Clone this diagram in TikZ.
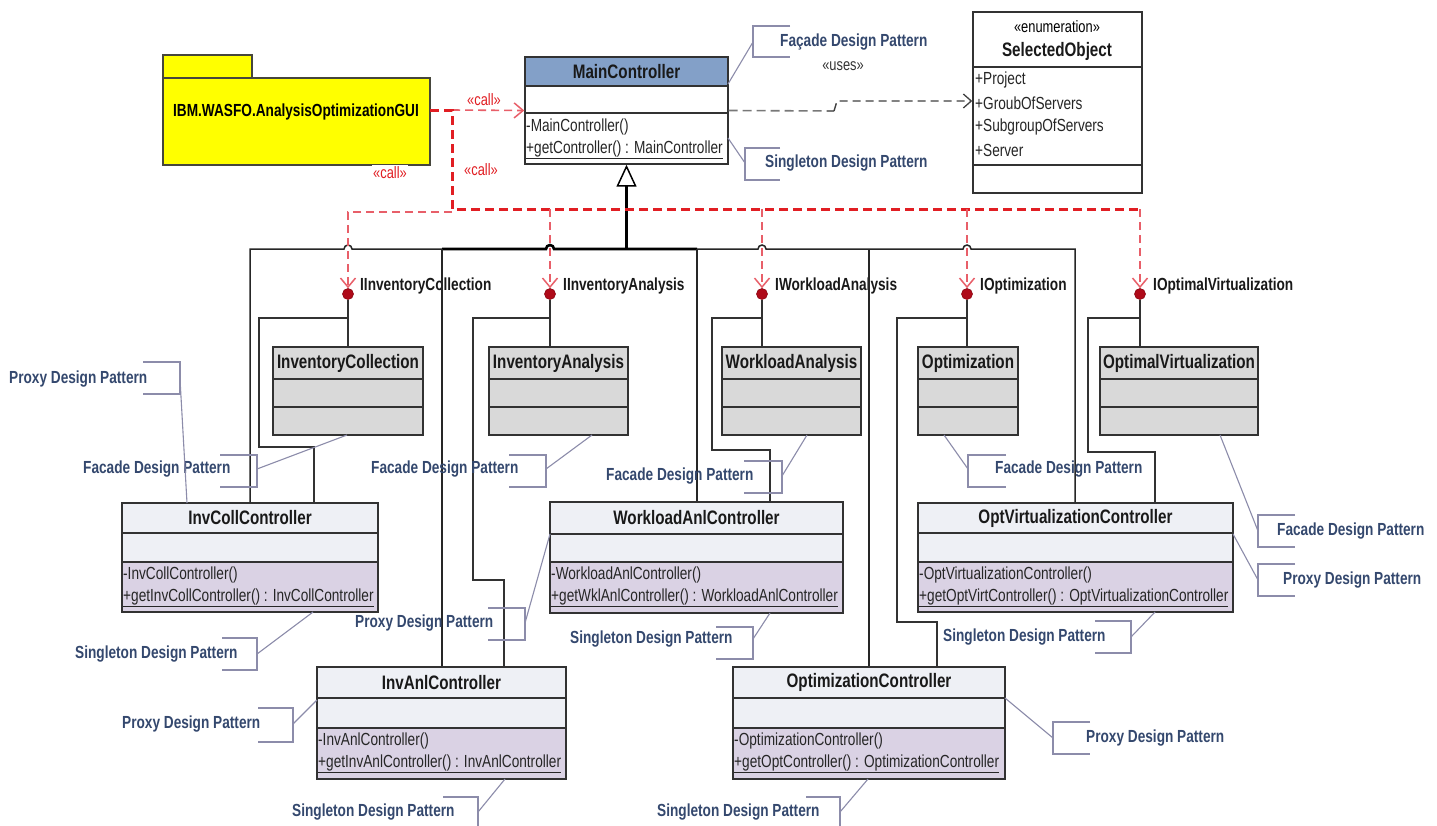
\documentclass[tikz,border=0pt]{standalone}
\usepackage{fontspec}
\setmainfont{Liberation Sans}[FakeStretch=0.78]
\usetikzlibrary{arrows.meta,fit}
\definecolor{pkgyellow}{RGB}{255,255,0}
\definecolor{pkgline}{RGB}{70,70,60}
\definecolor{mchead}{RGB}{131,160,200}
\definecolor{ctrllight}{RGB}{238,240,245}
\definecolor{ctrlmeth}{RGB}{218,210,228}
\definecolor{ifacegray}{RGB}{217,217,217}
\definecolor{notetext}{RGB}{52,72,110}
\definecolor{notelinec}{RGB}{140,140,170}
\definecolor{callred}{RGB}{225,30,35}
\definecolor{callpink}{RGB}{232,95,105}
\definecolor{lolli}{RGB}{175,10,25}
\definecolor{framec}{RGB}{50,50,50}
\definecolor{usesgray}{RGB}{120,120,120}

\newcommand\umlclass[8]{%
  \path[#8h] (#2,#3) rectangle (#4,#5);
  \path[#8a] (#2,#5) rectangle (#4,#6);
  \path[#8m] (#2,#6) rectangle (#4,#7);
  \draw[compsep] (#2,#5) -- (#4,#5) (#2,#6) -- (#4,#6);
  \node[clsframe, fit={(#2,#3) (#4,#7)}] (#1) {};
  \coordinate (#1-h) at ({(#2+#4)/2},{(#3+#5)/2});
}
\newcommand\dpnote[8]{%
  \node[notelabel, anchor=west] (#1) at (#3,#4) {#2};
  \draw[noteline] (#8,#6) -- (#5,#6) -- (#5,#7) -- (#8,#7);
  \coordinate (#1-b) at (#5,#4);
}

\begin{document}
\begin{tikzpicture}[x=1pt,y=-1pt,
  clsframe/.style={draw=framec, line width=1.4pt, inner sep=0pt},
  compsep/.style={draw=framec, line width=1.4pt},
  mch/.style={fill=mchead}, mca/.style={fill=white}, mcm/.style={fill=white},
  enh/.style={fill=white}, ena/.style={fill=white}, enm/.style={fill=white},
  gyh/.style={fill=ifacegray}, gya/.style={fill=ifacegray}, gym/.style={fill=ifacegray},
  cth/.style={fill=ctrllight}, cta/.style={fill=ctrllight}, ctm/.style={fill=ctrlmeth},
  clsname/.style={font=\fontsize{19.5}{22}\selectfont\bfseries, text=black!90, inner sep=0pt},
  member/.style={font=\fontsize{17.5}{20}\selectfont, text=black!85, inner sep=0pt, anchor=west},
  notelabel/.style={font=\fontsize{17.5}{20}\selectfont\bfseries, text=notetext, inner sep=0pt},
  noteline/.style={draw=notelinec, line width=1.1pt},
  iflabel/.style={font=\fontsize{17.5}{20}\selectfont\bfseries, text=black!90, inner sep=0pt, anchor=west},
  calllbl/.style={font=\fontsize{16.5}{19}\selectfont, text=callred, inner sep=1.5pt},
  lolly/.style={circle, fill=lolli, draw=lolli!80!black, line width=0.6pt, minimum size=11pt, inner sep=0pt},
  real/.style={draw=framec, line width=1.3pt},
  genline/.style={draw=black!85, line width=1.5pt},
  genthick/.style={draw=black, line width=2.6pt},
  callthick/.style={draw=callred, line width=3pt, dash pattern=on 9pt off 5pt},
  callthin/.style={draw=callpink, line width=1.6pt, dash pattern=on 8pt off 5pt},
  vtip/.style={-{Straight Barb[length=9pt,width=15pt,line width=1.5pt]}}
]
\useasboundingbox (0,0) rectangle (1437,825);
\fill[white] (0,0) rectangle (1437,825);

% ---------- package ----------
\path[draw=pkgline, line width=1.3pt, fill=pkgyellow] (163,55) rectangle (252,78);
\node[draw=pkgline, line width=1.3pt, fill=pkgyellow, inner sep=0pt, fit={(163,78) (430,165)}] (pkg) {};
\node[font=\fontsize{17.5}{20}\selectfont\bfseries, inner sep=0pt] (pkg-t) at (296,112) {IBM.WASFO.AnalysisOptimizationGUI};

% ---------- classes ----------
\umlclass{mc}{525}{57}{728}{86}{113}{164}{mc}
\umlclass{so}{973}{12}{1142}{67}{165}{193}{en}
\umlclass{icls}{273}{347}{423}{379}{407}{435}{gy}
\umlclass{ian}{489}{347}{628}{379}{407}{435}{gy}
\umlclass{wan}{722}{347}{861}{379}{407}{435}{gy}
\umlclass{opt}{918}{347}{1018}{379}{407}{435}{gy}
\umlclass{ovi}{1100}{347}{1258}{379}{407}{435}{gy}
\umlclass{icc}{122}{503}{378}{533}{562}{612}{ct}
\umlclass{wac}{550}{502}{843}{534}{562}{613}{ct}
\umlclass{ovc}{918}{503}{1233}{533}{562}{612}{ct}
\umlclass{iac}{317}{667}{566}{698}{728}{779}{ct}
\umlclass{occ}{733}{667}{1005}{698}{728}{779}{ct}

\node[clsname] (mc-n) at (mc-h) {MainController};
\node[member] (mc-m1) at (526,127) {-MainController()};
\node[member] (mc-m2) at (526,150) {\underline{+getController() : MainController}};

\node[font=\fontsize{16.5}{19}\selectfont, inner sep=0pt] (so-s) at (1057,27) {«enumeration»};
\node[clsname] (so-n) at (1057,51) {SelectedObject};
\node[member] (so-a1) at (975,80) {+Project};
\node[member] (so-a2) at (975,103) {+GroubOfServers};
\node[member] (so-a3) at (975,127) {+SubgroupOfServers};
\node[member] (so-a4) at (975,150) {+Server};

\node[clsname] (icls-n) at (icls-h) {InventoryCollection};
\node[clsname] (ian-n) at (ian-h) {InventoryAnalysis};
\node[clsname] (wan-n) at (wan-h) {WorkloadAnalysis};
\node[clsname] (opt-n) at (opt-h) {Optimization};
\node[clsname] (ovi-n) at (ovi-h) {OptimalVirtualization};

\node[clsname] (icc-n) at (icc-h) {InvCollController};
\node[member] (icc-m1) at (123,575) {-InvCollController()};
\node[member] (icc-m2) at (123,598) {\underline{+getInvCollController() : InvCollController}};
\node[clsname] (wac-n) at (wac-h) {WorkloadAnlController};
\node[member] (wac-m1) at (551,575) {-WorkloadAnlController()};
\node[member] (wac-m2) at (551,598) {\underline{+getWklAnlController() : WorkloadAnlController}};
\node[clsname] (ovc-n) at (ovc-h) {OptVirtualizationController};
\node[member] (ovc-m1) at (919,575) {-OptVirtualizationController()};
\node[member] (ovc-m2) at (919,598) {\underline{+getOptVirtController() : OptVirtualizationController}};
\node[clsname] (iac-n) at (iac-h) {InvAnlController};
\node[member] (iac-m1) at (318,741) {-InvAnlController()};
\node[member] (iac-m2) at (318,764) {\underline{+getInvAnlController() : InvAnlController}};
\node[clsname] (occ-n) at (occ-h) {OptimizationController};
\node[member] (occ-m1) at (734,741) {-OptimizationController()};
\node[member] (occ-m2) at (734,764) {\underline{+getOptController() : OptimizationController}};

% ---------- interfaces (lollipops) ----------
\node[lolly] (ii1) at (348,294) {};
\node[lolly] (ii2) at (550,294) {};
\node[lolly] (ii3) at (762,294) {};
\node[lolly] (ii4) at (967,294) {};
\node[lolly] (ii5) at (1140,294) {};
\node[iflabel] (ii1-l) at (360,286) {IInventoryCollection};
\node[iflabel] (ii2-l) at (563,286) {IInventoryAnalysis};
\node[iflabel] (ii3-l) at (775,286) {IWorkloadAnalysis};
\node[iflabel] (ii4-l) at (980,286) {IOptimization};
\node[iflabel] (ii5-l) at (1153,286) {IOptimalVirtualization};

\draw[real] (ii1.south) -- (ii1 |- icls.north);
\draw[real] (ii2.south) -- (ii2 |- ian.north);
\draw[real] (ii3.south) -- (ii3 |- wan.north);
\draw[real] (ii4.south) -- (ii4 |- opt.north);
\draw[real] (ii5.south) -- (ii5 |- ovi.north);

% realization paths to controllers
\coordinate (r1a) at (348,318); \coordinate (r1b) at (259,447); \coordinate (r1c) at (314,447);
\coordinate (r2a) at (550,318); \coordinate (r2b) at (473,580); \coordinate (r2c) at (504,580);
\coordinate (r3a) at (762,318); \coordinate (r3b) at (712,450); \coordinate (r3c) at (770,450);
\coordinate (r4a) at (967,318); \coordinate (r4b) at (897,622); \coordinate (r4c) at (937,622);
\coordinate (r5a) at (1140,318); \coordinate (r5b) at (1088,452); \coordinate (r5c) at (1155,452);
\draw[real] (r1a) -| (r1b) -- (r1c) -- (r1c |- icc.north);
\draw[real] (r2a) -| (r2b) -- (r2c) -- (r2c |- iac.north);
\draw[real] (r3a) -| (r3b) -- (r3c) -- (r3c |- wac.north);
\draw[real] (r4a) -| (r4b) -- (r4c) -- (r4c |- occ.north);
\draw[real] (r5a) -| (r5b) -- (r5c) -- (r5c |- ovc.north);

% ---------- generalization tree ----------
\coordinate (g0) at (626.5,249);
\coordinate (g1) at (250,249);
\coordinate (g2) at (442,249);
\coordinate (g3) at (697,249);
\coordinate (g4) at (869,249);
\coordinate (g5) at (1075,249);
\draw[genline] (g1 |- icc.north) -- (g1) -- (344,249) arc[start angle=180,end angle=360,radius=4]
  -- (546,249) arc[start angle=180,end angle=360,radius=4]
  -- (758,249) arc[start angle=180,end angle=360,radius=4]
  -- (963,249) arc[start angle=180,end angle=360,radius=4]
  -- (g5) -- (g5 |- ovc.north);
\draw[genthick] (g2) -- (546,249) arc[start angle=180,end angle=360,radius=4] -- (g3);
\draw[genline] (g2) -- (g2 |- iac.north);
\draw[genline] (g3) -- (g3 |- wac.north);
\draw[genline] (g4) -- (g4 |- occ.north);
\draw[genthick, -{Triangle[open, length=22pt, width=20pt, line width=1.5pt]}] (g0) -- (mc.south);

% ---------- uses dependency ----------
\coordinate (u1) at (834,111);
\coordinate (u2) at (837,101);
\draw[draw=usesgray, line width=1.6pt, dash pattern=on 9pt off 5pt] (mc.east) -- (u1);
\draw[draw=black!75, line width=1.4pt, dash pattern=on 8pt off 5pt, -{Straight Barb[length=8pt,width=14pt,line width=1.3pt]}] (u1) -- (u2) -- (u2 -| so.west);
\node[font=\fontsize{16.5}{19}\selectfont, text=black!80, inner sep=0pt] (uses) at (843,66) {«uses»};

% ---------- call dependencies ----------
\coordinate (pk-r) at (430,110);
\coordinate (ra) at (452,110);
\coordinate (rb) at (452,209);
\coordinate (rc) at (1140,209);
\coordinate (rl) at (452,212);
\draw[callthin, vtip] (ra) -- (mc.west);
\draw[callthick] (pk-r) -- (ra) -- (rb) -- (rc);
\draw[callthin, vtip] (rl) -| (ii1.north);
\draw[callthin, vtip] (ii2 |- rb) -- (ii2.north);
\draw[callthin, vtip] (ii3 |- rb) -- (ii3.north);
\draw[callthin, vtip] (ii4 |- rb) -- (ii4.north);
\draw[callthin, vtip] (rc) -- (ii5.north);
\node[calllbl] (call1) at (484,100) {«call»};
\node[calllbl, fill=white] (call2) at (390,173) {«call»};
\node[calllbl] (call3) at (481,170) {«call»};

% ---------- design pattern notes ----------
\dpnote{n1}{Façade Design Pattern}{780}{42}{753}{26}{57}{790}
\dpnote{n2}{Singleton Design Pattern}{765}{163}{745}{148}{180}{780}
\dpnote{n3}{Proxy Design Pattern}{9}{379}{180}{362}{394}{143}
\dpnote{n4}{Facade Design Pattern}{83}{469}{257}{455}{487}{220}
\dpnote{n5}{Facade Design Pattern}{371}{469}{546}{455}{487}{509}
\dpnote{n6}{Facade Design Pattern}{606}{476}{782}{461}{493}{744}
\dpnote{n7}{Facade Design Pattern}{995}{469}{968}{455}{487}{1006}
\dpnote{n8}{Facade Design Pattern}{1277}{531}{1258}{515}{547}{1295}
\dpnote{n9}{Proxy Design Pattern}{1283}{580}{1258}{564}{596}{1295}
\dpnote{n10}{Singleton Design Pattern}{943}{637}{1131}{621}{653}{1095}
\dpnote{n11}{Singleton Design Pattern}{75}{654}{257}{638}{670}{222}
\dpnote{n12}{Proxy Design Pattern}{355}{623}{525}{608}{640}{488}
\dpnote{n13}{Singleton Design Pattern}{570}{639}{753}{627}{659}{716}
\dpnote{n14}{Proxy Design Pattern}{122}{724}{293}{708}{742}{258}
\dpnote{n15}{Singleton Design Pattern}{292}{812}{478}{797}{829}{443}
\dpnote{n16}{Proxy Design Pattern}{1086}{738}{1053}{722}{754}{1090}
\dpnote{n17}{Singleton Design Pattern}{657}{812}{840}{797}{829}{806}

\coordinate (t1) at (728,84);
\coordinate (t2) at (728,138);
\coordinate (t3) at (187,503);
\coordinate (t4) at (347,435);
\coordinate (t5) at (592,435);
\coordinate (t6) at (807,435);
\coordinate (t7) at (944,435);
\coordinate (t8) at (1220,435);
\coordinate (t9) at (1233,534);
\coordinate (t10) at (1155,612);
\coordinate (t11) at (313,612);
\coordinate (t12) at (550,534);
\coordinate (t13) at (770,613);
\coordinate (t14) at (317,700);
\coordinate (t15) at (505,779);
\coordinate (t16) at (1005,698);
\coordinate (t17) at (868,779);
\foreach \i in {1,...,17} { \draw[noteline] (n\i-b) -- (t\i); }
\end{tikzpicture}
\end{document}
